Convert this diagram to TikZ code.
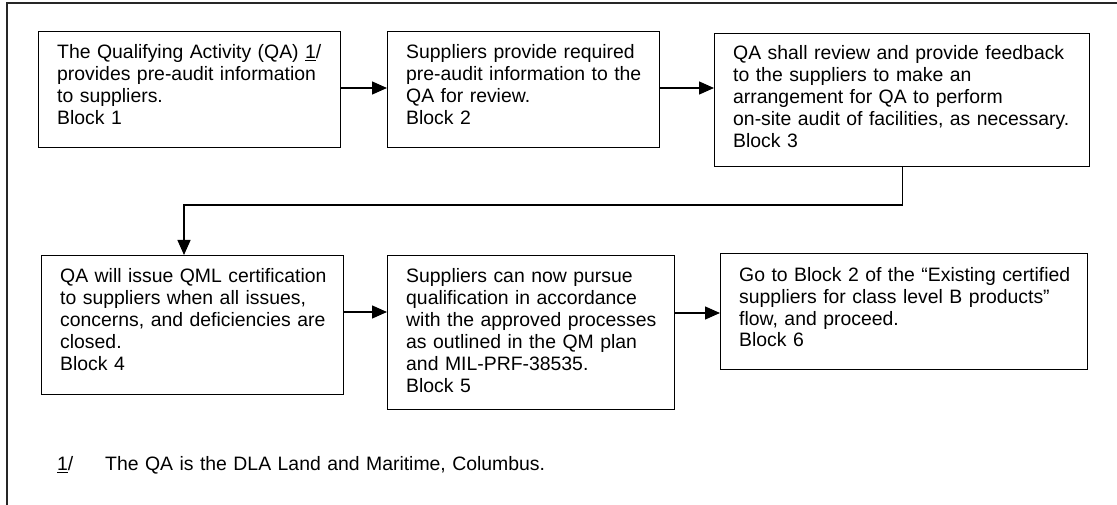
\documentclass[tikz,border=0pt]{standalone}
\usepackage{fontspec}
\setmainfont{Liberation Sans}[Ligatures=CommonOff]
\usetikzlibrary{arrows.meta}
\begin{document}
\begin{tikzpicture}[x=1pt,y=-1pt,
  box/.style={draw=black,line width=1.3pt,inner sep=0pt,anchor=north west},
  txt/.style={anchor=base west,inner sep=0pt,align=left,text width=420pt,font=\fontsize{19.4}{22}\selectfont},
  arr/.style={line width=1.3pt,-{Triangle[length=15pt,width=13pt]}},
  frame/.style={line width=1.3pt,draw=black!85}]
\useasboundingbox (0,0) rectangle (1117,505);
\draw[frame] (7,505) |- (1117,3);
% boxes
\node[box,minimum width=302pt,minimum height=116pt] (b1) at (38,31) {};
\node[box,minimum width=272pt,minimum height=116pt] (b2) at (387,31) {};
\node[box,minimum width=375pt,minimum height=133pt] (b3) at (714,33) {};
\node[box,minimum width=302pt,minimum height=139pt] (b4) at (41,255) {};
\node[box,minimum width=287pt,minimum height=154pt] (b5) at (387,255) {};
\node[box,minimum width=367pt,minimum height=116pt] (b6) at (720,253) {};
% texts
\node[txt] (t1) at (57,59) {The Qualifying Activity (QA) \underline{1}/\\provides pre-audit information\\to suppliers.\\Block 1};
\node[txt] (t2) at (406,59) {Suppliers provide required\\pre-audit information to the\\QA for review.\\Block 2};
\node[txt] (t3) at (733,60) {QA shall review and provide feedback\\to the suppliers to make an\\arrangement for QA to perform\\on-site audit of facilities, as necessary.\\Block 3};
\node[txt] (t4) at (60,283) {QA will issue QML certification\\to suppliers when all issues,\\concerns, and deficiencies are\\closed.\\Block 4};
\node[txt] (t5) at (406,283) {Suppliers can now pursue\\qualification in accordance\\with the approved processes\\as outlined in the QM plan\\and MIL-PRF-38535.\\Block 5};
\node[txt] (t6) at (739,281) {Go to Block 2 of the “Existing certified\\suppliers for class level B products”\\flow, and proceed.\\Block 6};
% footnote
\node[txt,text width=40pt] (fn1) at (57,470.5) {\underline{1}/};
\node[txt,text width=600pt] (fn2) at (105,470.5) {The QA is the DLA Land and Maritime, Columbus.};
% connectors
\draw[arr] (b1.east |- 0,88) -- (b2.west |- 0,88);
\draw[arr] (b2.east |- 0,88) -- (b3.west |- 0,88);
\coordinate (c1) at (184,205);
\draw[arr] (b3.south) |- (c1) -- (c1 |- b4.north);
\draw[arr] (b4.east |- 0,312) -- (b5.west |- 0,312);
\draw[arr] (b5.east |- 0,313) -- (b6.west |- 0,313);
\end{tikzpicture}
\end{document}
